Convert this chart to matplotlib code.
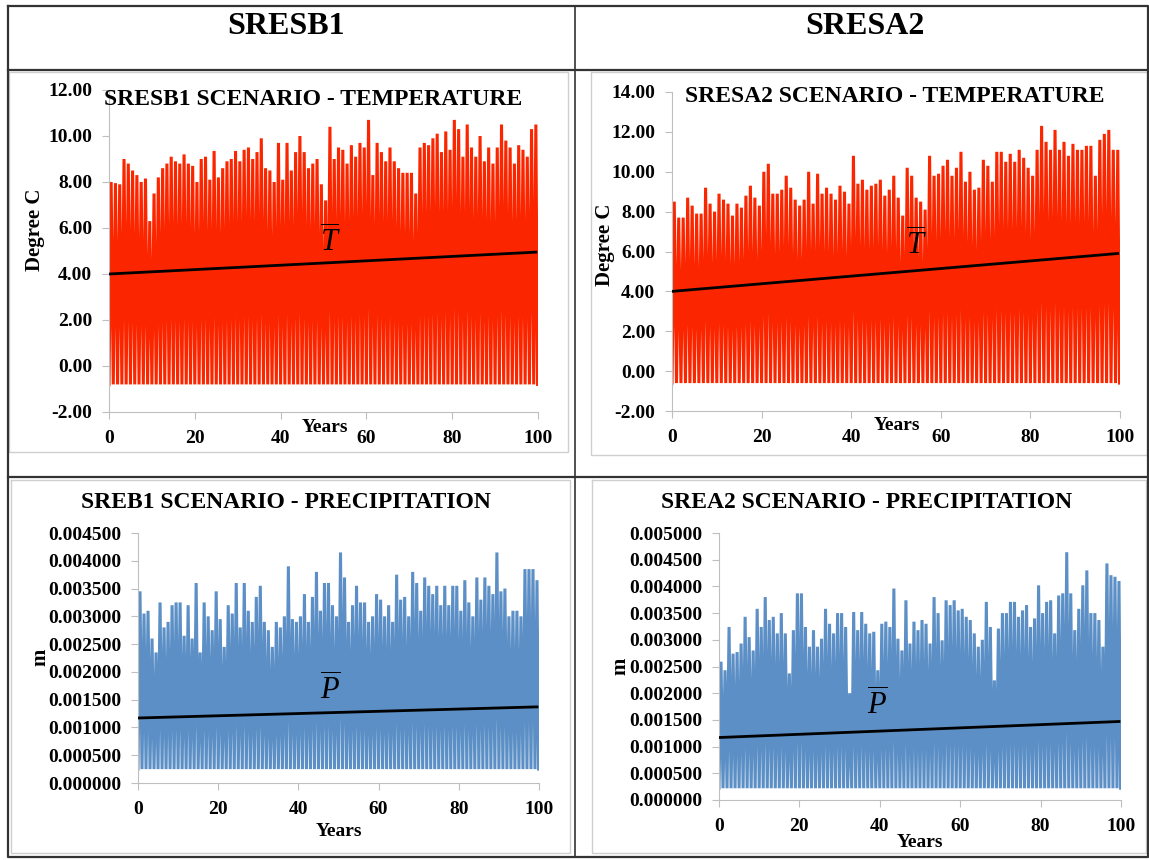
import numpy as np
import matplotlib
matplotlib.use("Agg")
import matplotlib.pyplot as plt
from matplotlib.ticker import FormatStrFormatter, MultipleLocator

plt.rcParams['font.family'] = ['Liberation Serif', 'DejaVu Serif']
plt.rcParams['font.weight'] = 'bold'
plt.rcParams['mathtext.fontset'] = 'custom'
plt.rcParams['mathtext.it'] = 'Liberation Serif:italic:weight=normal'
plt.rcParams['mathtext.rm'] = 'Liberation Serif:weight=normal'

# ---------------- data: yearly peaks ----------------
b1_temp_peak = [8.0, 7.95, 7.9, 9.0, 8.8, 8.5, 8.3, 8.0, 8.15, 6.3,
                7.5, 8.2, 8.6, 8.8, 9.1, 8.9, 8.8, 9.2, 8.8, 8.7,
                8.0, 9.0, 9.1, 8.1, 9.35, 8.2, 8.6, 8.9, 9.0, 9.35,
                8.9, 9.4, 9.5, 9.0, 9.3, 9.9, 8.6, 8.5, 8.0, 9.7,
                8.1, 9.7, 8.5, 9.3, 10.0, 9.3, 8.6, 8.8, 9.0, 7.9,
                7.2, 10.4, 9.0, 9.5, 9.4, 8.8, 9.6, 9.1, 9.7, 9.5,
                10.7, 8.3, 9.7, 9.3, 8.9, 9.5, 8.9, 8.6, 8.4, 8.4,
                8.4, 7.5, 9.5, 9.7, 9.6, 9.9, 10.1, 9.3, 10.2, 9.4,
                10.7, 10.3, 9.1, 10.5, 9.5, 9.1, 10.0, 8.9, 9.5, 8.8,
                9.5, 10.5, 9.8, 9.5, 8.8, 9.6, 9.4, 9.1, 10.3, 10.5]
b1_temp_low = -0.8
b1_temp_trend = [4.00, 4.95]

a2_temp_peak = [8.5, 7.7, 7.7, 8.7, 8.3, 7.9, 7.9, 9.2, 8.4, 8.0,
                8.9, 8.6, 8.4, 7.8, 8.4, 8.2, 8.8, 9.3, 8.7, 8.3,
                10.0, 10.4, 8.9, 8.9, 9.1, 9.8, 9.2, 8.6, 8.3, 8.6,
                10.0, 8.4, 9.9, 8.9, 9.2, 8.9, 8.6, 9.3, 9.0, 8.4,
                10.8, 9.4, 9.6, 9.1, 9.3, 9.4, 9.6, 8.8, 9.1, 9.8,
                8.7, 7.8, 10.2, 9.8, 8.7, 8.5, 8.1, 10.8, 9.8, 9.9,
                10.3, 10.6, 9.8, 10.2, 11.0, 9.5, 10.0, 9.1, 9.2, 10.6,
                10.3, 9.5, 11.0, 11.0, 10.5, 10.9, 10.5, 11.1, 10.7, 10.2,
                9.8, 11.1, 12.3, 11.5, 11.1, 12.1, 11.1, 11.5, 10.8, 11.4,
                11.1, 11.1, 11.3, 11.3, 9.8, 11.6, 11.9, 12.1, 11.1, 11.1]
a2_temp_low = -0.6
a2_temp_trend = [4.00, 5.90]

# precipitation in mm, plotted in metres
b1_prec_peak = [3.45, 3.05, 3.1, 2.6, 2.35, 3.25, 2.8, 2.9, 3.2, 3.25,
                3.25, 2.65, 3.2, 2.6, 3.6, 2.35, 3.25, 3.0, 2.75, 3.45,
                2.95, 2.45, 3.2, 3.05, 3.6, 2.8, 3.6, 3.1, 2.9, 3.35,
                3.55, 2.9, 2.75, 2.45, 2.9, 2.8, 3.0, 3.9, 2.95, 2.9,
                3.0, 3.4, 2.9, 3.35, 3.8, 3.1, 3.6, 3.6, 3.2, 3.0,
                4.15, 3.7, 2.9, 3.2, 3.55, 3.25, 3.25, 2.9, 3.0, 3.4,
                3.3, 3.0, 3.2, 2.9, 3.75, 3.3, 3.35, 3.0, 3.8, 3.6,
                3.1, 3.7, 3.55, 3.4, 3.55, 3.2, 3.55, 3.2, 3.55, 3.55,
                3.1, 3.65, 3.25, 3.0, 3.7, 3.3, 3.7, 3.55, 3.4, 4.15,
                3.45, 3.5, 3.0, 3.1, 3.1, 3.0, 3.85, 3.85, 3.85, 3.65]
b1_prec_low = 0.25
b1_prec_trend = [1.17, 1.37]

a2_prec_peak = [2.59, 2.43, 3.24, 2.74, 2.77, 2.93, 3.43, 3.05, 2.8, 3.58,
                3.24, 3.8, 3.37, 3.43, 3.12, 3.5, 3.12, 2.37, 3.18, 3.87,
                3.87, 3.24, 2.87, 3.18, 2.87, 3.02, 3.58, 3.3, 3.12, 3.5,
                3.5, 3.24, 2.0, 3.52, 3.18, 3.52, 3.3, 3.12, 3.15, 2.43,
                3.3, 3.34, 3.24, 3.96, 3.02, 2.8, 3.74, 2.93, 3.34, 3.18,
                3.37, 3.3, 2.93, 3.8, 3.5, 2.99, 3.74, 3.65, 3.74, 3.55,
                3.58, 3.43, 3.37, 3.12, 2.87, 3.0, 3.71, 3.24, 2.24, 3.21,
                3.5, 3.5, 3.71, 3.71, 3.43, 3.55, 3.65, 3.24, 3.4, 4.02,
                3.5, 3.71, 3.74, 3.12, 3.83, 3.87, 4.64, 3.87, 3.18, 3.58,
                4.02, 4.3, 3.5, 3.5, 3.37, 2.87, 4.43, 4.21, 4.18, 4.1]
a2_prec_low = 0.22
a2_prec_trend = [1.17, 1.47]

RED = '#fb2600'
BLUE = '#5b8fc6'
GREY = '#bfbfbf'

W, H = 1149, 860
fig = plt.figure(figsize=(W / 100, H / 100), dpi=100)

# table grid drawn in pixel space
bg = fig.add_axes([0, 0, 1, 1], zorder=-5)
bg.set_xlim(0, W)
bg.set_ylim(H, 0)
bg.axis('off')
for x0, y0, x1, y1 in [(9, 72, 568, 452), (591, 72, 1147, 455),
                       (11, 480, 570, 853), (592, 480, 1146, 853)]:
    bg.plot([x0, x1, x1, x0, x0], [y0, y0, y1, y1, y0], color='#cfcfcf', lw=1)
tc = '#333333'
bg.plot([8, 1148, 1148, 8, 8], [6, 6, 857, 857, 6], color=tc, lw=1.6)
bg.plot([575, 575], [6, 857], color=tc, lw=1.2)
bg.plot([8, 1148], [70, 70], color=tc, lw=1.6)
bg.plot([8, 1148], [477, 477], color=tc, lw=1.6)
bg.text(286, 26, 'SRESB1', ha='center', va='center', fontsize=23, fontweight='bold')
bg.text(865, 26, 'SRESA2', ha='center', va='center', fontsize=23, fontweight='bold')


def px_axes(x0, y0, x1, y1):
    return fig.add_axes([x0 / W, 1 - y1 / H, (x1 - x0) / W, (y1 - y0) / H])


def seasonal(peaks, low):
    # trough at the start of each year, peak mid-year
    yrs = np.arange(len(peaks))
    t = np.empty(2 * len(peaks) + 1)
    v = np.empty(2 * len(peaks) + 1)
    t[0:-1:2] = yrs
    t[1::2] = yrs + 0.5
    t[-1] = len(peaks) - 0.1
    v[0::2] = low
    v[1::2] = peaks
    return t, v


def style(ax, ylim, step, fmt, fs=14):
    ax.set_xlim(0, 100)
    ax.set_ylim(*ylim)
    ax.yaxis.set_major_locator(MultipleLocator(step))
    ax.yaxis.set_major_formatter(FormatStrFormatter(fmt))
    ax.xaxis.set_major_locator(MultipleLocator(20))
    for s in ['top', 'right']:
        ax.spines[s].set_visible(False)
    for s in ['left', 'bottom']:
        ax.spines[s].set_color(GREY)
    ax.tick_params(axis='both', colors=GREY, labelcolor='black', length=5,
                   labelsize=fs, direction='out')
    ax.tick_params(axis='x', pad=8)
    ax.tick_params(axis='y', pad=7)
    for lab in ax.get_xticklabels() + ax.get_yticklabels():
        lab.set_fontweight('bold')


panels = [
    # box, peaks, low, trend, scale, colour, ylim, step, fmt, title, title pos, ylabel, ylabel pos, years pos, mean label, mean pos
    ((109, 90, 538, 412), b1_temp_peak, b1_temp_low, b1_temp_trend, 1.0, RED, (-2, 12), 2, '%.2f',
     'SRESB1 SCENARIO - TEMPERATURE', (0.476, 0.972), 'Degree C', (-0.172, 0.565), (0.503, -0.047),
     r'$\overline{T}$', (51.5, 5.4)),
    ((672, 92, 1120, 411), a2_temp_peak, a2_temp_low, a2_temp_trend, 1.0, RED, (-2, 14), 2, '%.2f',
     'SRESA2 SCENARIO - TEMPERATURE', (0.498, 0.987), 'Degree C', (-0.15, 0.52), (0.502, -0.044),
     r'$\overline{T}$', (54.5, 6.3)),
    ((138, 533, 539, 783), b1_prec_peak, b1_prec_low, b1_prec_trend, 1e-3, BLUE, (0, 0.0045), 0.0005, '%.6f',
     'SREB1 SCENARIO - PRECIPITATION', (0.37, 1.12), 'm', (-0.244, 0.504), (0.5, -0.196),
     r'$\overline{P}$', (48.0, 0.00167)),
    ((719, 533, 1121, 800), a2_prec_peak, a2_prec_low, a2_prec_trend, 1e-3, BLUE, (0, 0.005), 0.0005, '%.6f',
     'SREA2 SCENARIO - PRECIPITATION', (0.368, 1.116), 'm', (-0.246, 0.50), (0.5, -0.161),
     r'$\overline{P}$', (39.4, 0.00178)),
]

for (box, peaks, low, trend, scale, col, ylim, step, fmt, title, tpos,
     ylab, ypos, yrpos, mlab, mpos) in panels:
    ax = px_axes(*box)
    t, v = seasonal(peaks, low)
    ax.plot(t, v * scale, color=col, lw=2.2, solid_joinstyle='miter', zorder=2)
    ax.plot([0, 99.5], np.array(trend) * scale, color='black', lw=2.0, zorder=3)
    style(ax, ylim, step, fmt)
    ax.text(tpos[0], tpos[1], title, transform=ax.transAxes, ha='center', va='center',
            fontsize=17, fontweight='bold')
    ax.text(ypos[0], ypos[1], ylab, transform=ax.transAxes, ha='center', va='center',
            rotation=90, fontsize=15, fontweight='bold')
    ax.text(yrpos[0], yrpos[1], 'Years', transform=ax.transAxes, ha='center', va='center',
            fontsize=14, fontweight='bold')
    ax.text(mpos[0], mpos[1], mlab, ha='center', va='center', fontsize=22,
            fontweight='normal', zorder=4)

fig.savefig('out.png', dpi=100)
